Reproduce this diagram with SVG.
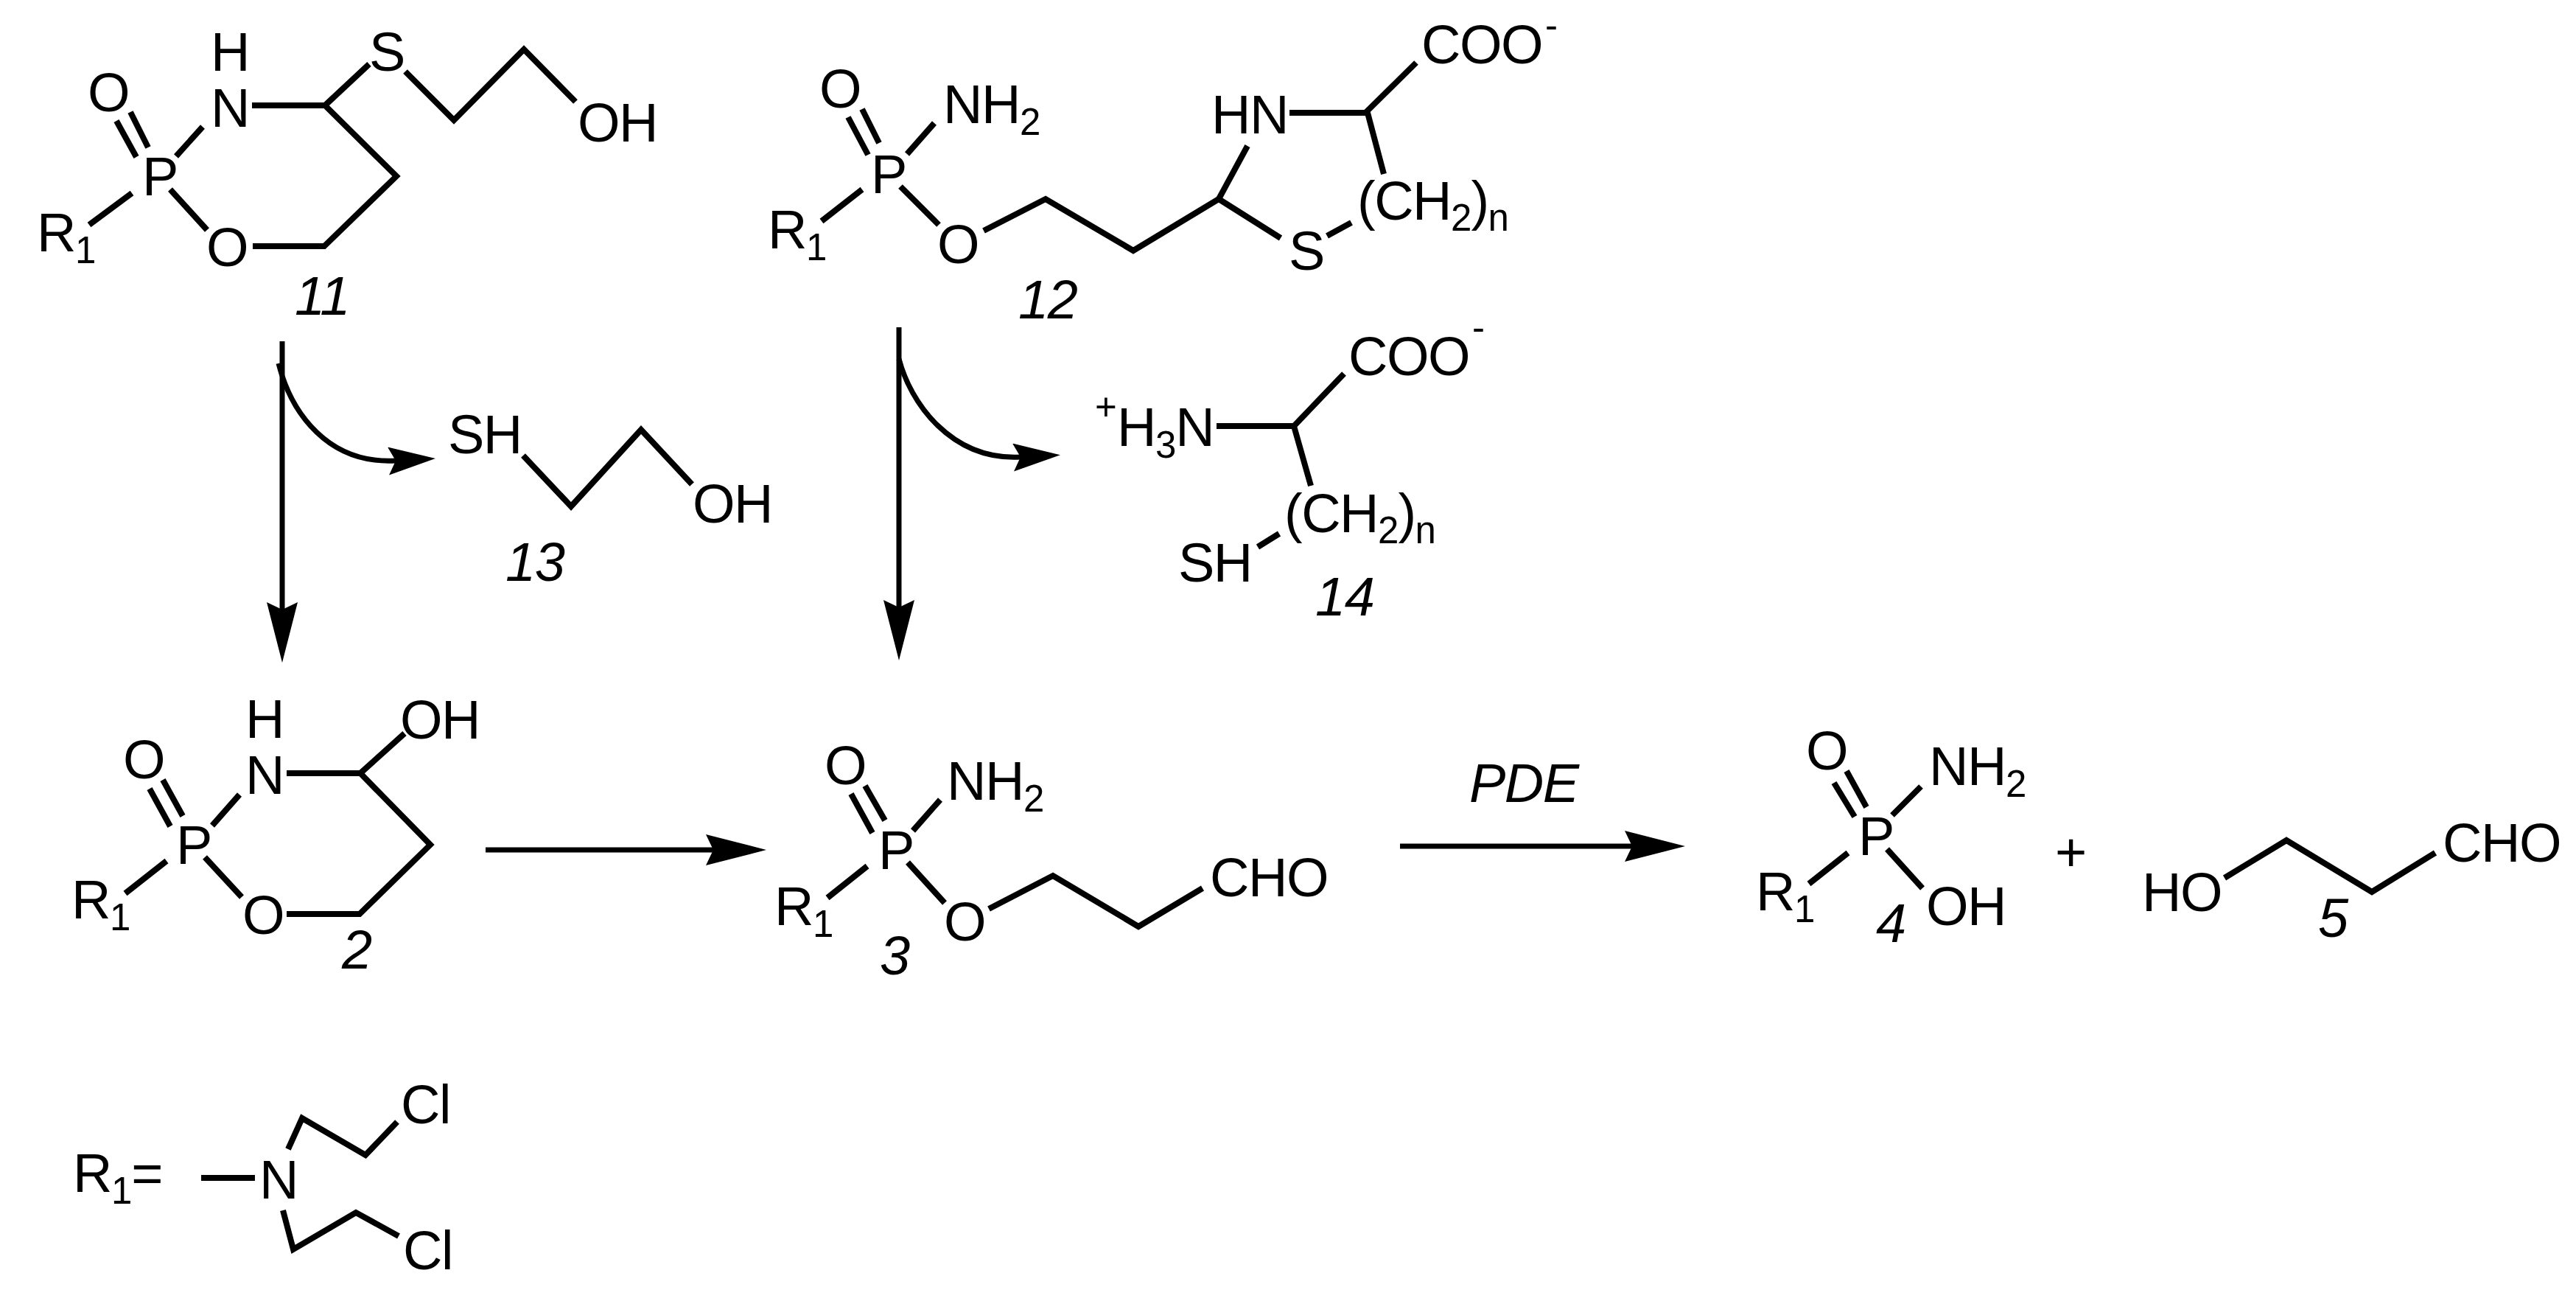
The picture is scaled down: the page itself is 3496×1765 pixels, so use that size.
<svg xmlns="http://www.w3.org/2000/svg" width="3496" height="1765" viewBox="0 0 3496 1765">
<style>
text{font-family:"Liberation Sans",Arial,sans-serif;font-size:74px;letter-spacing:-1.5px;fill:#000}
.s{font-size:51px;letter-spacing:-1px}
.i{font-style:italic}
.m{text-anchor:middle}
path{fill:none;stroke:#000;stroke-width:8;stroke-linejoin:miter;stroke-miterlimit:6}
.a{stroke-width:7}
.h{fill:#000;stroke:none}
</style>
<defs>
<marker id="big" markerUnits="userSpaceOnUse" markerWidth="84" markerHeight="44" refX="10" refY="21" orient="auto" viewBox="0 0 84 44"><path class="h" d="M0,0L82,21L0,42L10,21Z"/></marker>
<marker id="small" markerUnits="userSpaceOnUse" markerWidth="66" markerHeight="40" refX="10" refY="19" orient="auto" viewBox="0 0 66 40"><path class="h" d="M0,0L64,19L0,38L10,19Z"/></marker>
</defs>
<rect width="3496" height="1765" fill="#fff"/>
<g id="connectors">
<path class="a" d="M383,463V827" marker-end="url(#big)"/>
<path class="a" d="M378,493C395,560 445,630 537,625" marker-end="url(#small)"/>
<path class="a" d="M1220,444V824" marker-end="url(#big)"/>
<path class="a" d="M1220,487C1235,545 1290,625 1385,620" marker-end="url(#small)"/>
<path class="a" d="M659,1153H968" marker-end="url(#big)"/>
<path class="a" d="M1900,1148H2215" marker-end="url(#big)"/>
</g>
<g id="m11">
<path d="M158,164L185,213M177,152L201,200M239,212L275,172M179,262L121,305M231,257L281,312M343,334H440L538,239L441,143H342M441,143L501,87M550,97L616,163L711,67L781,138"/>
<text x="312" y="96" class="m">H</text><text x="312" y="172" class="m">N</text><text x="147" y="151" class="m">O</text><text x="193" y="265">P</text>
<text x="50" y="341">R<tspan class="s" dy="16">1</tspan></text><text x="308" y="361" class="m">O</text><text x="525" y="96" class="m">S</text><text x="784" y="192">OH</text>
<text x="400" y="427" class="i">11</text>
</g>
<g id="m12">
<path d="M1151,159L1178,210M1170,148L1193,194M1231,209L1268,167M1170,257L1115,300M1222,253L1274,305M1335,313L1419,270L1538,340L1654,270L1738,323M1654,270L1693,198M1750,153H1853L1922,85M1856,153L1878,236M1801,320L1834,302"/>
<text x="1140" y="146" class="m">O</text><text x="1280" y="167">NH<tspan class="s" dy="16">2</tspan></text><text x="1182" y="262">P</text>
<text x="1042" y="337">R<tspan class="s" dy="16">1</tspan></text><text x="1300" y="357" class="m">O</text><text x="1644" y="181">HN</text>
<text x="1929" y="86">COO<tspan class="s" dy="-34" dx="4">-</tspan></text>
<text x="1842" y="298">(CH<tspan class="s" dy="15">2</tspan><tspan dy="-15">)</tspan><tspan class="s" dy="15">n</tspan></text>
<text x="1773" y="366" class="m">S</text><text x="1382" y="432" class="i">12</text>
</g>
<g id="m13">
<path d="M710,618L775,687L870,583L939,657"/>
<text x="608" y="615">SH</text><text x="940" y="709">OH</text><text x="686" y="788" class="i">13</text>
</g>
<g id="m14">
<path d="M1651,578H1756L1824,507M1756,578L1779,659M1707,742L1736,724"/>
<text x="1486" y="570" class="s">+</text><text x="1516" y="605">H<tspan class="s" dy="16">3</tspan><tspan dy="-16">N</tspan></text>
<text x="1830" y="509">COO<tspan class="s" dy="-47" dx="4">-</tspan></text>
<text x="1743" y="722">(CH<tspan class="s" dy="15">2</tspan><tspan dy="-15">)</tspan><tspan class="s" dy="15">n</tspan></text>
<text x="1599" y="789">SH</text><text x="1785" y="835" class="i">14</text>
</g>
<g id="m2">
<path d="M203,1070L231,1121M221,1058L248,1107M288,1120L325,1078M226,1168L170,1212M278,1163L328,1217M389,1240H488L584,1146L489,1049H389M489,1049L549,995"/>
<text x="359" y="1001" class="m">H</text><text x="359" y="1077" class="m">N</text><text x="543" y="1002">OH</text><text x="195" y="1056" class="m">O</text><text x="239" y="1172">P</text>
<text x="97" y="1246">R<tspan class="s" dy="16">1</tspan></text><text x="357" y="1267" class="m">O</text><text x="464" y="1314" class="i">2</text>
</g>
<g id="m3">
<path d="M1155,1077L1184,1130M1174,1066L1201,1113M1239,1127L1276,1085M1177,1175L1123,1218M1232,1170L1282,1225M1342,1233L1429,1188L1545,1257L1632,1205"/>
<text x="1147" y="1064" class="m">O</text><text x="1285" y="1085">NH<tspan class="s" dy="16">2</tspan></text><text x="1192" y="1179">P</text>
<text x="1051" y="1255">R<tspan class="s" dy="16">1</tspan></text><text x="1309" y="1276" class="m">O</text><text x="1194" y="1322" class="i">3</text>
<text x="1642" y="1216">CHO</text>
</g>
<g id="pde"><text x="1994" y="1088" class="i">PDE</text></g>
<g id="m4">
<path d="M2489,1062L2517,1108M2506,1046L2533,1095M2568,1106L2607,1067M2508,1157L2455,1199M2561,1152L2609,1205"/>
<text x="2479" y="1044" class="m">O</text><text x="2618" y="1065">NH<tspan class="s" dy="16">2</tspan></text><text x="2522" y="1160">P</text>
<text x="2383" y="1235">R<tspan class="s" dy="16">1</tspan></text><text x="2614" y="1255">OH</text><text x="2546" y="1278" class="i">4</text>
</g>
<g id="plus"><text x="2789" y="1182">+</text></g>
<g id="m5">
<path d="M3019,1191L3103,1140L3219,1210L3305,1157"/>
<text x="2907" y="1236">HO</text><text x="3315" y="1169">CHO</text><text x="3146" y="1271" class="i">5</text>
</g>
<g id="r1">
<path d="M273,1598H346M391,1559L410,1517L496,1567L539,1522M384,1642L398,1695L483,1645L541,1677"/>
<text x="99" y="1617">R<tspan class="s" dy="16">1</tspan><tspan dy="-16">=</tspan></text>
<text x="378" y="1626" class="m">N</text><text x="544" y="1524">Cl</text><text x="547" y="1722">Cl</text>
</g>
</svg>
